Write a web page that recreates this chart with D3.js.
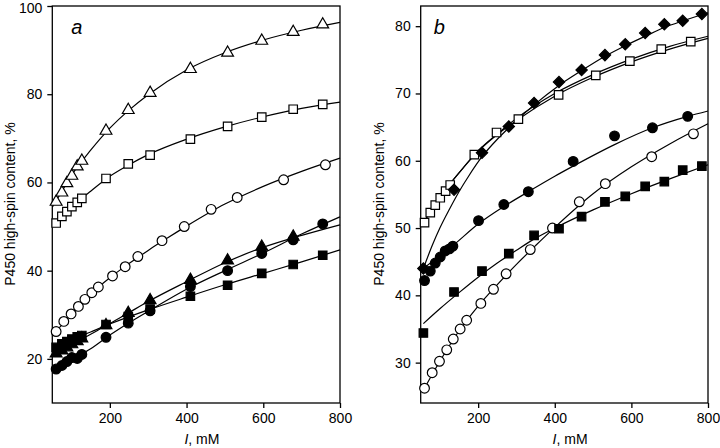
<!DOCTYPE html>
<html><head><meta charset="utf-8">
<script src="https://cdn.jsdelivr.net/npm/d3@7"></script>
<style>body{margin:0;background:#fff}svg{display:block}</style>
</head><body><svg id="c" width="720" height="448"></svg>
<script>
// ---------- data ----------
const xTicks = [200, 400, 600, 800];
const yTicksA = [20, 40, 60, 80, 100];
const yTicksB = [30, 40, 50, 60, 70, 80];

// panel a
const xSer14 = [60, 75, 88, 101, 115, 127, 190, 248, 305, 410, 507, 596, 678, 755];
const aOpenTri = [55.6, 57.7, 59.8, 61.5, 63.6, 64.9, 71.7, 76.4, 80.3, 85.7, 89.4, 92.1, 94.1, 95.8];
const openSq = [50.8, 52.3, 53.4, 54.5, 55.5, 56.4, 60.9, 64.2, 66.2, 69.8, 72.7, 74.8, 76.6, 77.7];
const aFillSq = [22.6, 23.4, 23.9, 24.5, 25.0, 25.3, 27.8, 29.6, 31.3, 34.2, 36.7, 39.4, 41.4, 43.5];
const aFillCirc = [17.7, 18.5, 19.4, 20.3, 20.1, 21.0, 24.9, 28.1, 30.9, 36.4, 40.0, 43.9, 47.0, 50.6];
const xFillTri = [60, 75, 88, 101, 115, 127, 190, 248, 305, 410, 507, 596, 678];
const aFillTri = [21.2, 21.9, 22.6, 23.3, 24.0, 24.6, 27.6, 30.4, 33.3, 37.9, 42.3, 45.4, 47.7];
const xOpenCirc = [60, 80, 99, 118, 135, 153, 170, 207, 240, 273, 336, 394, 464, 532, 653, 762];
const openCirc = [26.2, 28.5, 30.2, 31.9, 33.5, 35.0, 36.3, 38.8, 40.9, 43.2, 46.8, 50.0, 53.9, 56.6, 60.6, 64.0];

// panel b
const xB13 = [57, 137, 210, 280, 346, 411, 470, 531, 584, 636, 686, 734, 784];
const bDiamond = [44.0, 55.7, 61.2, 65.1, 68.6, 71.7, 73.5, 75.7, 77.3, 79.0, 80.3, 80.8, 81.8];
const bFillSq = [34.4, 40.5, 43.6, 46.2, 48.9, 49.9, 51.7, 53.9, 54.7, 56.2, 56.9, 58.6, 59.2];
const xBFillCirc = [60, 75, 88, 101, 114, 125, 134, 201, 267, 331, 448, 556, 655, 747];
const bFillCirc = [42.2, 43.6, 44.8, 45.7, 46.6, 46.9, 47.3, 51.1, 53.5, 55.4, 59.9, 63.7, 64.9, 66.6];

// fitted curves
const fitXTri = [50, 75, 100, 150, 200, 250, 300, 400, 500, 600, 700, 800];
const fitTri = [54.4, 58.0, 61.6, 67.3, 72.3, 76.4, 79.9, 85.5, 89.4, 92.3, 94.5, 96.3];
const fitXSq = [50, 75, 100, 150, 200, 250, 300, 400, 500, 600, 700, 800];
const fitSq = [50.0, 52.4, 54.4, 58.0, 61.4, 64.0, 66.3, 69.8, 72.6, 74.9, 76.8, 78.2];
const fitXCirc = [57, 100, 150, 200, 250, 300, 350, 400, 500, 600, 700, 800];
const fitCirc = [25.9, 30.2, 34.7, 38.4, 41.6, 44.6, 47.4, 50.1, 55.1, 59.1, 62.5, 65.5];
const fitXFillSqA = [50, 100, 150, 200, 300, 400, 500, 600, 700, 800];
const fitFillSqA = [22.2, 24.3, 26.1, 27.9, 31.1, 34.0, 36.8, 39.4, 42.0, 44.7];
const fitXFillA = [55, 100, 150, 200, 250, 300, 400, 500, 600, 700, 800];
const fitFillCircA = [17.4, 19.8, 22.3, 25.4, 28.2, 30.8, 35.8, 40.0, 44.0, 48.3, 52.2];
const fitFillTriA = [20.9, 23.2, 25.6, 28.0, 30.5, 33.0, 37.5, 41.8, 45.3, 48.0, 50.4];

const fitXDia = [57, 80, 100, 125, 150, 175, 210, 250, 280, 346, 411, 470, 530, 584, 636, 686, 735, 800];
const fitDia = [44.0, 47.4, 50.0, 52.8, 55.4, 57.7, 60.6, 63.2, 64.9, 68.3, 71.2, 73.4, 75.5, 77.1, 78.5, 79.8, 80.8, 82.0];
const fitXSqB = [55, 75, 100, 150, 200, 250, 300, 400, 500, 600, 700, 800];
const fitSqB1 = [50.4, 52.5, 54.6, 58.2, 61.5, 64.0, 66.3, 70.0, 72.8, 75.1, 77.0, 78.5];
const fitSqB2 = [50.4, 52.5, 54.6, 58.2, 61.4, 63.9, 66.0, 69.6, 72.4, 74.7, 76.6, 78.2];
const fitXFillCircB = [57, 100, 134, 200, 267, 331, 400, 448, 556, 655, 747, 800];
const fitFillCircB = [44.0, 45.9, 47.4, 50.6, 53.2, 55.4, 57.7, 59.2, 62.4, 64.9, 66.6, 67.4];
const fitXFillSqB = [57, 100, 150, 200, 250, 300, 350, 400, 500, 600, 700, 800];
const fitFillSqB = [35.8, 38.0, 40.4, 42.7, 44.8, 46.7, 48.5, 50.0, 52.7, 55.1, 57.3, 59.4];

// ---------- drawing ----------
const svg = d3.select("#c");
const FONT = "'Liberation Sans', Arial, sans-serif";
const zip = (xs, ys) => xs.map((x, i) => [x, ys[i]]);

function panel(opt) {
  const x = d3.scaleLinear().domain([50, 800]).range([opt.left, opt.right]);
  const y = d3.scaleLinear().domain(opt.yDomain).range([403, 6]);
  const g = svg.append("g");

  // axes
  const ax = g.append("g").attr("transform", "translate(0,403)")
    .call(d3.axisBottom(x).tickValues(xTicks).tickSize(5).tickSizeOuter(0).tickPadding(5));
  const ay = g.append("g").attr("transform", `translate(${opt.left},0)`)
    .call(d3.axisLeft(y).tickValues(opt.yTicks).tickSize(5).tickSizeOuter(0).tickPadding(5));
  [ax, ay].forEach(a => {
    a.select(".domain").remove();
    a.selectAll("line").attr("stroke", "#000").attr("stroke-width", 1.3);
    a.selectAll("text").attr("font-family", FONT).attr("font-size", 14).attr("fill", "#000");
  });
  // keep the top tick label inside the picture
  ay.selectAll(".tick text").filter(d => y(d) < 10).attr("dy", "0.45em");
  g.append("rect").attr("x", opt.left).attr("y", 6)
    .attr("width", opt.right - opt.left).attr("height", 397)
    .attr("fill", "none").attr("stroke", "#000").attr("stroke-width", 1.3);

  // labels
  g.append("text").attr("transform", `translate(${opt.ylabX},204) rotate(-90)`)
    .attr("text-anchor", "middle").attr("font-family", FONT).attr("font-size", 14)
    .text("P450 high-spin content, %");
  const xl = g.append("text").attr("x", x(440)).attr("y", 444)
    .attr("text-anchor", "middle").attr("font-family", FONT).attr("font-size", 14);
  xl.append("tspan").attr("font-style", "italic").text("I");
  xl.append("tspan").text(", mM");
  g.append("text").attr("x", opt.left + opt.letterDx).attr("y", 34)
    .attr("font-family", FONT).attr("font-size", 20).attr("font-style", "italic")
    .text(opt.letter);

  // curves
  const line = d3.line().x(d => x(d[0])).y(d => y(d[1])).curve(d3.curveMonotoneX);
  opt.fits.forEach(f => {
    g.append("path").attr("d", line(zip(f[0], f[1])))
      .attr("fill", "none").attr("stroke", "#000").attr("stroke-width", 1.2);
  });

  // markers
  const shapes = {
    tri: [d3.symbolTriangle, 60, 0],
    sq: [d3.symbolSquare, 72, 0],
    circ: [d3.symbolCircle, 74, 0],
    dia: [d3.symbolSquare, 64, 45]
  };
  opt.series.forEach(s => {
    const [type, sz, rot] = shapes[s.shape];
    const sym = d3.symbol().type(type).size(sz);
    g.append("g").selectAll("path").data(zip(s.x, s.y)).join("path")
      .attr("d", sym)
      .attr("transform", d => `translate(${x(d[0])},${y(d[1])})` + (rot ? ` rotate(${rot})` : ""))
      .attr("fill", s.filled ? "#000" : "#fff")
      .attr("stroke", "#000").attr("stroke-width", 1.2);
  });
}

panel({
  left: 52.3, right: 340, yDomain: [10, 100], yTicks: yTicksA, ylabX: 15,
  letter: "a", letterDx: 19,
  fits: [[fitXTri, fitTri], [fitXSq, fitSq], [fitXCirc, fitCirc], [fitXFillSqA, fitFillSqA],
         [fitXFillA, fitFillCircA], [fitXFillA, fitFillTriA]],
  series: [
    {shape: "tri", x: xSer14, y: aOpenTri, filled: false},
    {shape: "sq", x: xSer14, y: openSq, filled: false},
    {shape: "circ", x: xOpenCirc, y: openCirc, filled: false},
    {shape: "sq", x: xSer14, y: aFillSq, filled: true},
    {shape: "tri", x: xFillTri, y: aFillTri, filled: true},
    {shape: "circ", x: xSer14, y: aFillCirc, filled: true}
  ]
});

panel({
  left: 420.7, right: 708, yDomain: [24, 83], yTicks: yTicksB, ylabX: 384,
  letter: "b", letterDx: 13,
  fits: [[fitXDia, fitDia], [fitXSqB, fitSqB1], [fitXSqB, fitSqB2], [fitXFillCircB, fitFillCircB],
         [fitXCirc, fitCirc], [fitXFillSqB, fitFillSqB]],
  series: [
    {shape: "sq", x: xSer14, y: openSq, filled: false},
    {shape: "dia", x: xB13, y: bDiamond, filled: true},
    {shape: "circ", x: xBFillCirc, y: bFillCirc, filled: true},
    {shape: "circ", x: xOpenCirc, y: openCirc, filled: false},
    {shape: "sq", x: xB13, y: bFillSq, filled: true}
  ]
});
</script></body></html>
